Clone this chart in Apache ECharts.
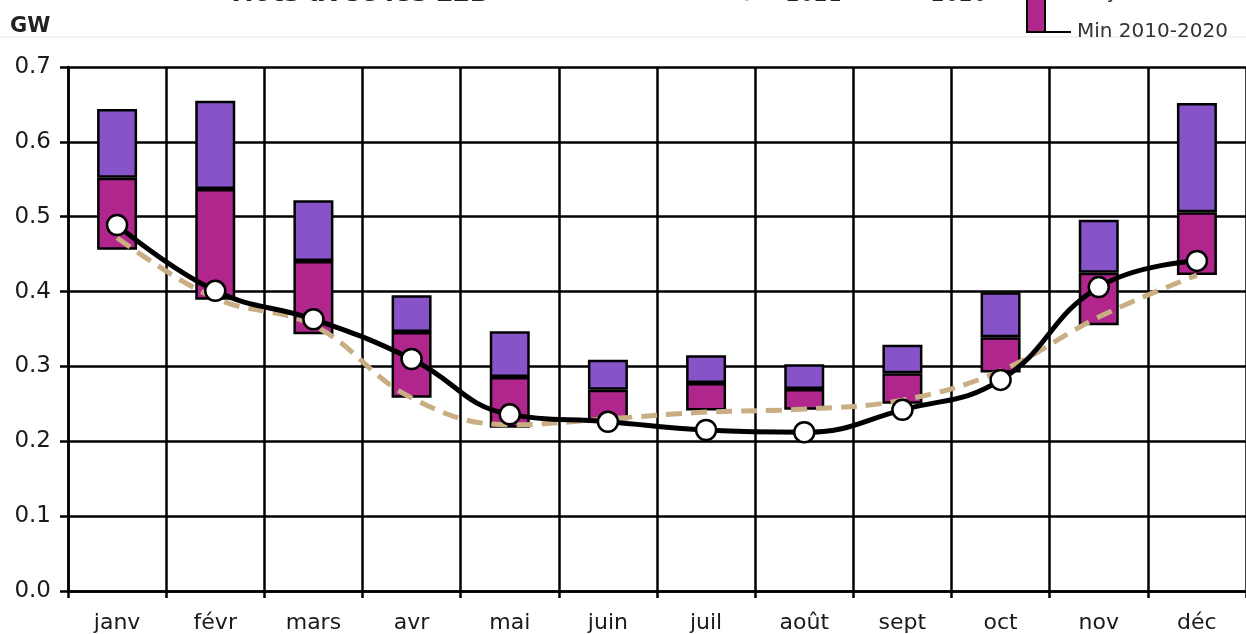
<!DOCTYPE html>
<html>
<head>
<meta charset="utf-8">
<script src="https://cdn.jsdelivr.net/npm/echarts@6/dist/echarts.min.js"></script>
<style>
  html, body { margin: 0; padding: 0; background: #fff; }
  #chart { width: 1246px; height: 634px; }
</style>
</head>
<body>
<div id="chart"></div>
<script>
// Monthly power (GW): 2010-2020 envelope (min / mean / max) with the 2020 and 2021 curves
const months = ['janv', 'févr', 'mars', 'avr', 'mai', 'juin', 'juil', 'août', 'sept', 'oct', 'nov', 'déc'];
const minVals  = [0.456, 0.389, 0.343, 0.258, 0.218, 0.228, 0.241, 0.242, 0.250, 0.292, 0.355, 0.422];
const meanVals = [0.552, 0.537, 0.441, 0.346, 0.286, 0.269, 0.278, 0.270, 0.291, 0.339, 0.425, 0.506];
const maxVals  = [0.644, 0.655, 0.522, 0.395, 0.347, 0.309, 0.315, 0.303, 0.329, 0.399, 0.496, 0.652];
const vals2021 = [0.489, 0.401, 0.363, 0.310, 0.236, 0.226, 0.215, 0.212, 0.242, 0.282, 0.406, 0.441];
const vals2020 = [0.472, 0.391, 0.355, 0.258, 0.222, 0.230, 0.239, 0.243, 0.255, 0.294, 0.366, 0.422];
const yTicks = { min: 0, max: 0.7, step: 0.1 };

const FONT = 'DejaVu Sans';
const INK = '#1a1a1a';
const C_MEAN = '#B0268C';
const C_MAX = '#8654C8';
const C_2020 = '#C9AE84';

const lowerSeg = meanVals.map((m, i) => +(m - minVals[i]).toFixed(3));
const upperSeg = maxVals.map((m, i) => +(m - meanVals[i]).toFixed(3));

function label(x, y, text, size, extra) {
  return {
    type: 'text', left: x, top: y, silent: true,
    style: Object.assign({ text: text, fontFamily: FONT, fontSize: size, fill: '#222' }, extra || {})
  };
}

const chart = echarts.init(document.getElementById('chart'), null, { renderer: 'canvas' });

chart.setOption({
  animation: false,
  backgroundColor: '#fff',
  grid: { left: 68, right: 0, top: 67, bottom: 43, containLabel: false },
  graphic: [
    // top separator
    { type: 'rect', shape: { x: 0, y: 36, width: 1246, height: 2 }, style: { fill: '#f4f4f4' }, silent: true },
    // title tail, running off the top edge
    label(233, -19, 'riots avec les LED', 26, { fontStyle: 'italic', fontWeight: 'bold' }),
    // unit
    label(10, 16, 'GW', 21, { fontWeight: 'bold' }),
    // legend entries, partly above the top edge
    { type: 'circle', shape: { cx: 747, cy: -10, r: 9 }, style: { fill: '#fff', stroke: '#000', lineWidth: 2.5 } },
    label(786, -16, '2021', 22),
    label(931, -16, '2020', 22),
    { type: 'rect', shape: { x: 1027, y: -10, width: 18, height: 42 }, style: { fill: C_MEAN, stroke: '#000', lineWidth: 2 } },
    { type: 'line', shape: { x1: 1045, y1: 32, x2: 1071, y2: 32 }, style: { stroke: '#000', lineWidth: 2 } },
    label(1077, -17, 'Moyenne 2010-2020', 20, { fill: '#333' }),
    label(1077, 22, 'Min 2010-2020', 20, { fill: '#333' })
  ],
  xAxis: {
    type: 'category',
    data: months,
    boundaryGap: true,
    axisLine: { show: true, lineStyle: { color: '#000', width: 2.5 } },
    axisTick: { show: true, length: 7, lineStyle: { color: '#000', width: 2.5 } },
    splitLine: { show: true, lineStyle: { color: '#000', width: 2.5 } },
    axisLabel: { margin: 21, color: INK, fontFamily: FONT, fontSize: 22 }
  },
  yAxis: {
    type: 'value',
    min: yTicks.min,
    max: yTicks.max,
    interval: yTicks.step,
    axisLine: { show: true, lineStyle: { color: '#000', width: 2.5 } },
    axisTick: { show: true, length: 8, lineStyle: { color: '#000', width: 2.5 } },
    splitLine: { show: true, lineStyle: { color: '#000', width: 2.5 } },
    axisLabel: { margin: 17, color: INK, fontFamily: FONT, fontSize: 23, formatter: v => v.toFixed(1) }
  },
  series: [
    {
      name: 'base', type: 'bar', stack: 'range', barWidth: 40, silent: true,
      itemStyle: { color: 'transparent' }, data: minVals, z: 2
    },
    {
      name: 'Moyenne 2010-2020', type: 'bar', stack: 'range', barWidth: 40,
      itemStyle: { color: C_MEAN, borderColor: '#000', borderWidth: 2.5 }, data: lowerSeg, z: 2
    },
    {
      name: 'Max 2010-2020', type: 'bar', stack: 'range', barWidth: 40,
      itemStyle: { color: C_MAX, borderColor: '#000', borderWidth: 2.5 }, data: upperSeg, z: 2
    },
    {
      name: '2020', type: 'line', data: vals2020, smooth: 0.4, showSymbol: false, symbol: 'none',
      lineStyle: { color: C_2020, width: 5, type: [16, 9] }, z: 4
    },
    {
      name: '2021', type: 'line', data: vals2021, smooth: 0.45,
      symbol: 'circle', symbolSize: 20, showSymbol: true,
      lineStyle: { color: '#000', width: 5 },
      itemStyle: { color: '#fff', borderColor: '#000', borderWidth: 2.5 }, z: 5
    }
  ]
});
</script>
</body>
</html>
